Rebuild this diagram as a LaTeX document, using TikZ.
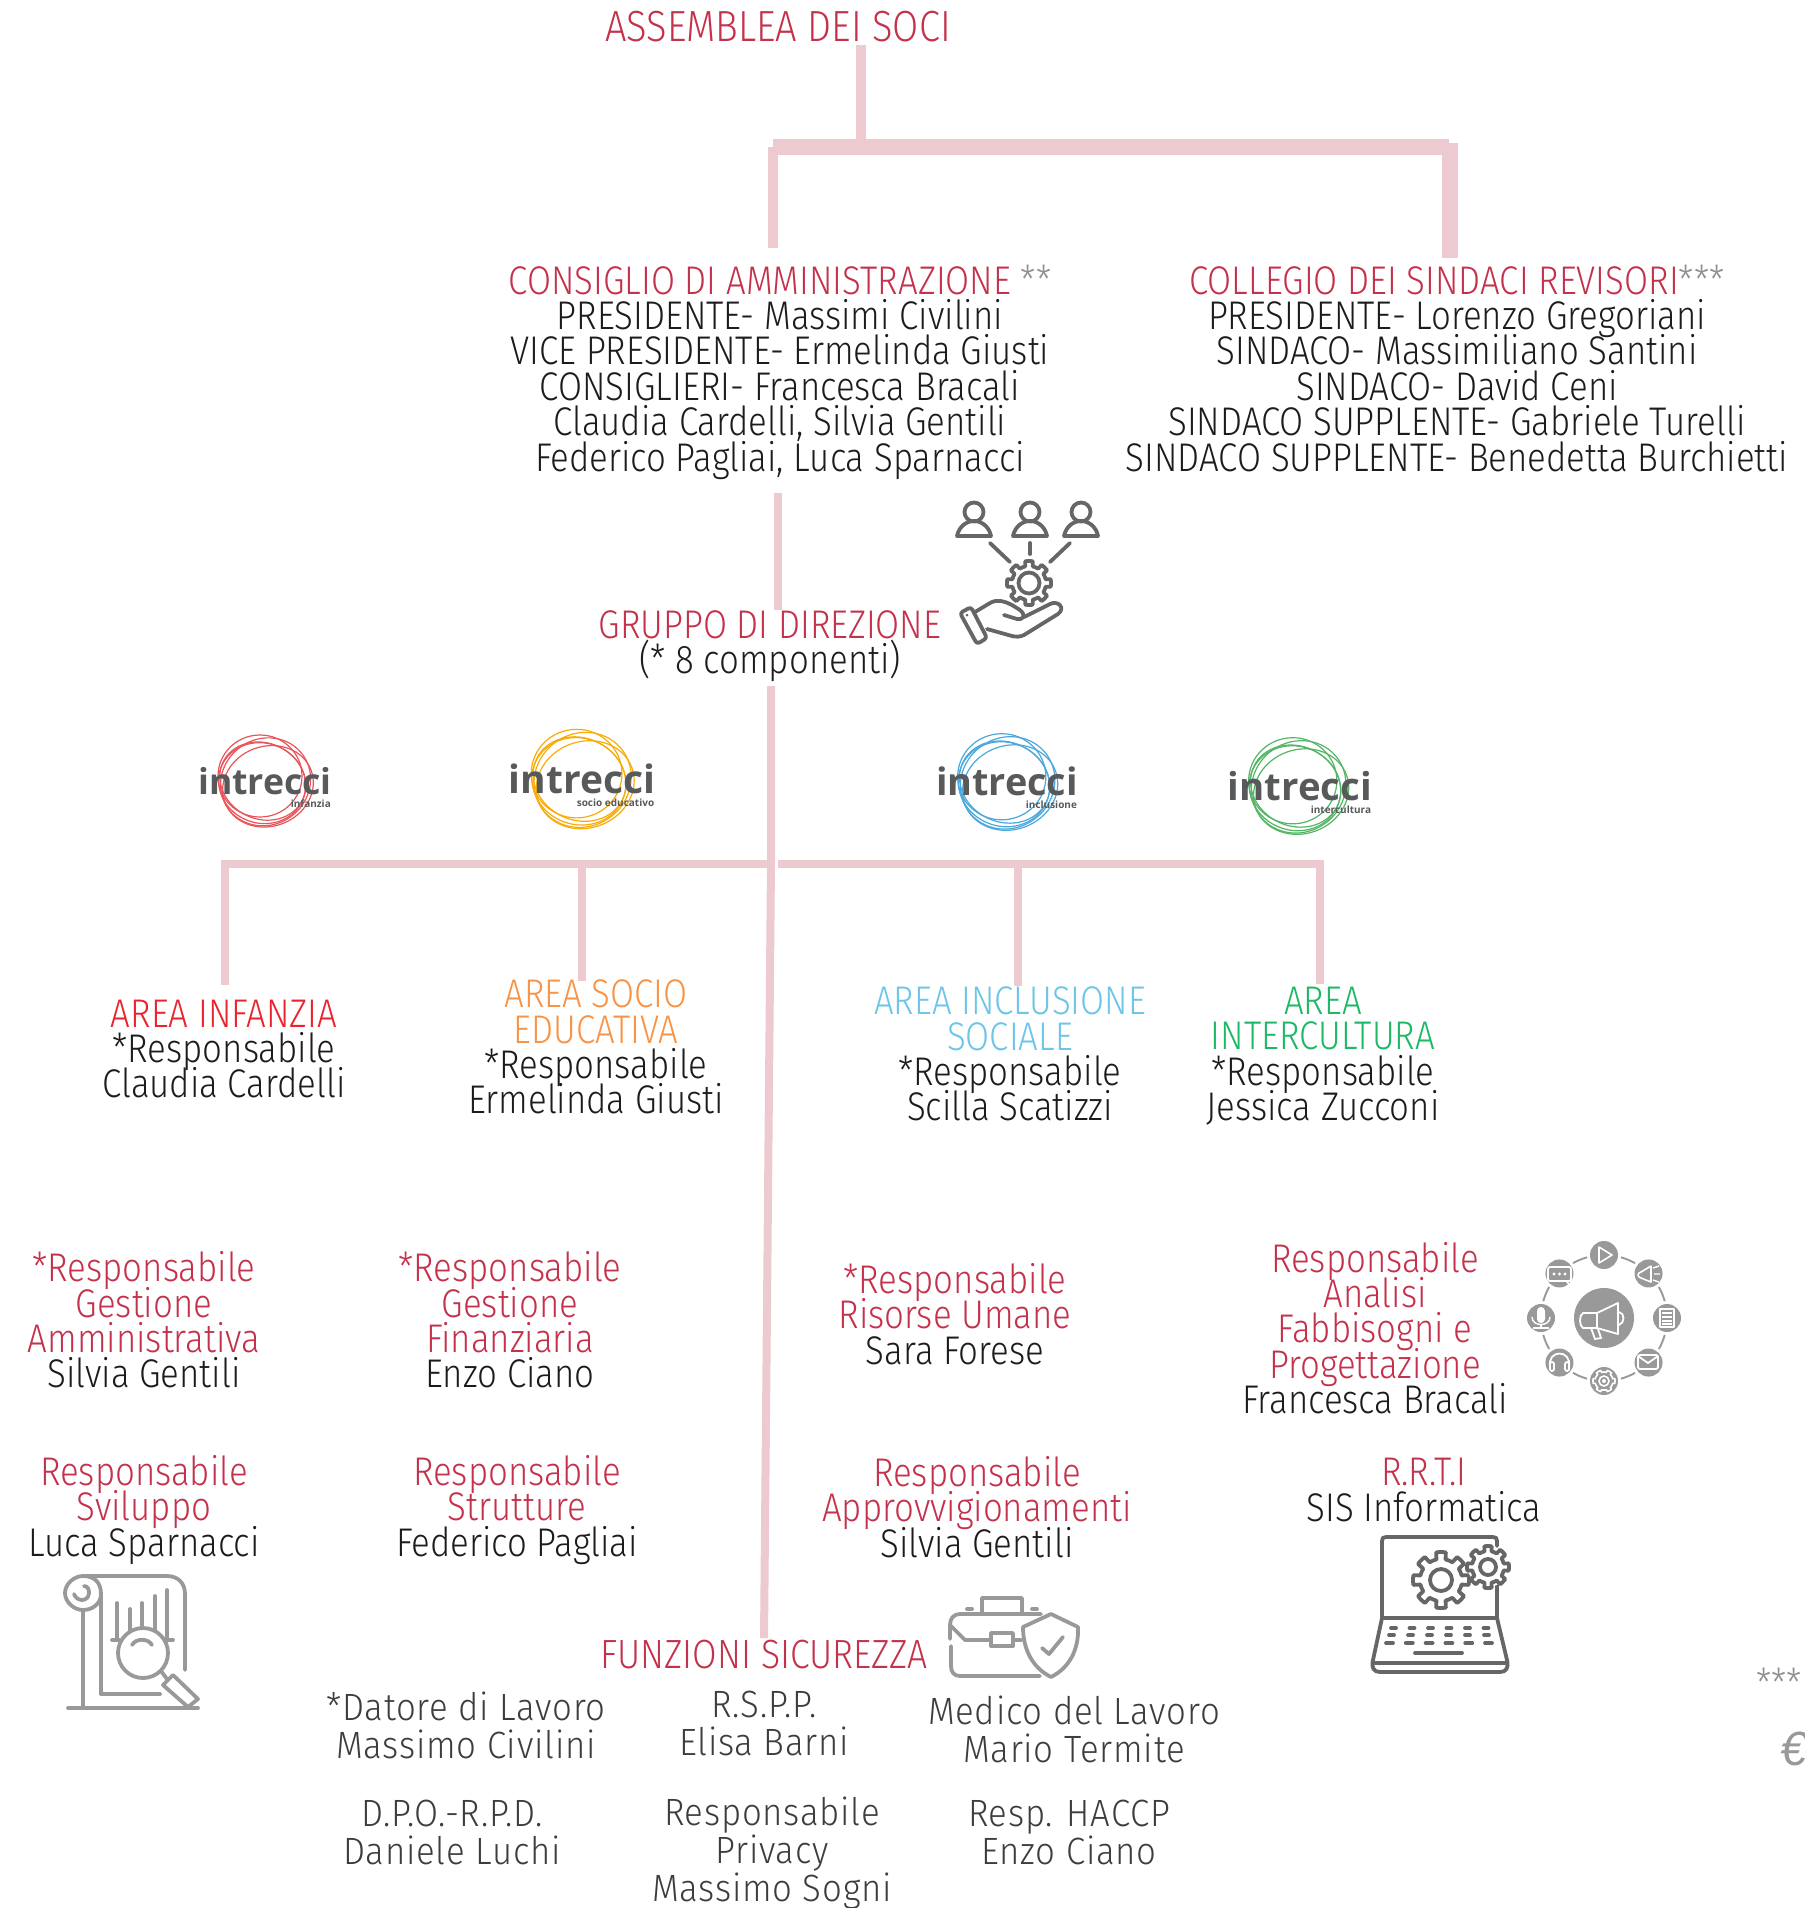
\documentclass[tikz,border=0pt]{standalone}
\usepackage{fontspec}
\setmainfont{Fira Sans Light}[FakeStretch=0.87]
\newfontfamily\sicfont{Fira Sans Light}[FakeStretch=0.915,LetterSpace=2]
\newfontfamily\logofont{Open Sans}
\newfontfamily\eurofont{Liberation Sans}
\definecolor{rosa}{HTML}{EDC9D0}
\definecolor{rosso}{HTML}{C4314B}
\definecolor{nero}{HTML}{1C1C1C}
\definecolor{grafite}{HTML}{3D3D3D}
\definecolor{stella}{HTML}{8F8F8F}
\definecolor{scuro}{HTML}{666666}
\definecolor{chiaro}{HTML}{999999}
\definecolor{logogrigio}{HTML}{58595B}
\definecolor{logorosso}{HTML}{E8545A}
\definecolor{logoarancio}{HTML}{F7AC0A}
\definecolor{logoblu}{HTML}{4BA8DC}
\definecolor{logoverde}{HTML}{55B567}
\lineskiplimit=-100pt
\tikzset{
    linea/.style={draw=rosa, line width=4pt},
    lineamedia/.style={draw=rosa, line width=5pt},
    lineaspessa/.style={draw=rosa, line width=8pt},
    testo/.style={align=center, inner sep=0pt, text=nero, font=\fontsize{20}{17.7}\selectfont},
    sicurezza/.style={align=center, inner sep=0pt, text=grafite, font=\sicfont\fontsize{19}{19}\selectfont},
    icona/.style={line width=1.9pt, line cap=round, line join=round},
    anello/.style={line width=0.6pt}
}
\newcommand{\rosso}[1]{\textcolor{rosso}{#1}}
\newcommand{\stelle}[1]{\textcolor{stella}{#1}}
\newcommand{\ruota}[6]{
    \draw[#6, shift={(#1,#2)}] plot[samples=145, domain=0:360] (\x:{#4+(#3-#4)*(cos(#5*\x)>0)}) -- cycle;
}
\newcommand{\logointrecci}[9]{
    \begin{scope}[shift={(#2,#3)}, scale=#4]
        \draw[#5, anello] (-5,-5) ellipse (42 and 41);
        \draw[#5, anello, rotate=20] (1,6) ellipse (46 and 40);
        \draw[#5, anello, rotate=-25] (-2,1) ellipse (44 and 38);
        \draw[#5, anello, rotate=35] (0,1) ellipse (46 and 43);
        \draw[#5, anello, rotate=70] (-3,-2) ellipse (40 and 44);
    \end{scope}
    \node[inner sep=0pt, anchor=base, text=logogrigio, font=\logofont\bfseries\fontsize{#9}{#9}\selectfont] (#1) at (#6,#7) {intrecci};
    \node[inner sep=0pt, anchor=base east, text=logogrigio, font=\logofont\bfseries\fontsize{5}{6}\selectfont, yshift=-6.5pt, xshift=-0.5pt] (#1sub) at (#1.base east) {#8};
}
\begin{document}
\begin{tikzpicture}[x=0.5pt, y=-0.5pt]
    \useasboundingbox (0,0) rectangle (1805,1908);

    \node[testo, font=\fontsize{21.8}{17.7}\selectfont] (assemblea) at (778,27) {\rosso{ASSEMBLEA DEI SOCI}};
    \node[testo] (cda) at (780,372) {\rosso{CONSIGLIO DI AMMINISTRAZIONE} \stelle{**}\\
        PRESIDENTE- Massimi Civilini\\
        VICE PRESIDENTE- Ermelinda Giusti\\
        CONSIGLIERI- Francesca Bracali\\
        Claudia Cardelli, Silvia Gentili\\
        Federico Pagliai, Luca Sparnacci};
    \node[testo] (collegio) at (1457,368) {\rosso{COLLEGIO DEI SINDACI REVISORI}\stelle{***}\\
        PRESIDENTE- Lorenzo Gregoriani\\
        SINDACO- Massimiliano Santini\\
        SINDACO- David Ceni\\
        SINDACO SUPPLENTE- Gabriele Turelli\\
        SINDACO SUPPLENTE- Benedetta Burchietti};
    \node[testo] (gruppo) at (770,646) {\rosso{GRUPPO DI DIREZIONE}\\(* 8 componenti)};

    \node[testo] (infanzia) at (224,1049) {\textcolor[HTML]{E8242F}{AREA INFANZIA}\\*Responsabile\\Claudia Cardelli};
    \node[testo] (socio) at (596,1047) {\textcolor[HTML]{F79447}{AREA SOCIO}\\\textcolor[HTML]{F79447}{EDUCATIVA}\\*Responsabile\\Ermelinda Giusti};
    \node[testo] (inclusione) at (1010,1054) {\textcolor[HTML]{6DC5E8}{AREA INCLUSIONE}\\\textcolor[HTML]{6DC5E8}{SOCIALE}\\*Responsabile\\Scilla Scatizzi};
    \node[testo] (intercultura) at (1323,1056) {\textcolor[HTML]{1DB866}{AREA}\\\textcolor[HTML]{1DB866}{INTERCULTURA}\\*Responsabile\\Jessica Zucconi};

    \node[testo] (amministrativa) at (144,1320) {\rosso{*Responsabile}\\\rosso{Gestione}\\\rosso{Amministrativa}\\Silvia Gentili};
    \node[testo] (finanziaria) at (510,1320) {\rosso{*Responsabile}\\\rosso{Gestione}\\\rosso{Finanziaria}\\Enzo Ciano};
    \node[testo] (risorse) at (955,1314) {\rosso{*Responsabile}\\\rosso{Risorse Umane}\\Sara Forese};
    \node[testo] (analisi) at (1375,1328) {\rosso{Responsabile}\\\rosso{Analisi}\\\rosso{Fabbisogni e}\\\rosso{Progettazione}\\Francesca Bracali};
    \node[testo] (sviluppo) at (144,1510) {\rosso{Responsabile}\\\rosso{Sviluppo}\\Luca Sparnacci};
    \node[testo] (strutture) at (517,1510) {\rosso{Responsabile}\\\rosso{Strutture}\\Federico Pagliai};
    \node[testo] (approvvigionamenti) at (977,1507) {\rosso{Responsabile}\\\rosso{Approvvigionamenti}\\Silvia Gentili};
    \node[testo] (rrti) at (1424,1490) {\rosso{R.R.T.I}\\SIS Informatica};
    \node[testo, font=\fontsize{20.4}{17.7}\selectfont] (funzioni) at (764,1655) {\rosso{FUNZIONI SICUREZZA}};

    \node[sicurezza] (datore) at (466,1725) {*Datore di Lavoro\\Massimo Civilini};
    \node[sicurezza] (rspp) at (764,1723) {R.S.P.P.\\Elisa Barni};
    \node[sicurezza] (medico) at (1074,1729) {Medico del Lavoro\\Mario Termite};
    \node[sicurezza] (dpo) at (452,1832) {D.P.O.-R.P.D.\\Daniele Luchi};
    \node[sicurezza] (privacy) at (772,1853) {Responsabile\\Privacy\\Massimo Sogni};
    \node[sicurezza] (haccp) at (1069,1832) {Resp. HACCP\\Enzo Ciano};

    \node[inner sep=0pt, anchor=west, text=stella, font=\fontsize{20}{20}\selectfont] (notastelle) at (1756,1683) {***};
    \node[inner sep=0pt, anchor=west, text=chiaro, font=\eurofont\itshape\fontsize{24}{24}\selectfont] (notaeuro) at (1780,1749) {€};

    \coordinate (busTop) at (860.5,147);
    \coordinate (busLeft) at (773,147);
    \coordinate (busRight) at (1450,147);
    \coordinate (trunkMid) at (771,864);
    \coordinate (ramoInfanzia) at (225,864);
    \coordinate (ramoSocio) at (582,864);
    \coordinate (nodoSx) at (767,864);
    \coordinate (nodoDx) at (778,864);
    \coordinate (ramoInclusione) at (1018,864);
    \coordinate (ramoIntercultura) at (1320,864);

    \draw[lineamedia, shorten <=1pt] (assemblea.south -| busTop) -- (busTop);
    \draw[lineaspessa] (busLeft) -- ([xshift=-0.5pt]busRight);
    \draw[lineamedia, shorten >=8pt] (busLeft) -- (busLeft |- cda.north);
    \draw[lineaspessa, shorten >=3pt] ([yshift=2pt]busRight) -- (busRight |- collegio.north);
    \draw[linea, shorten <=6.5pt] (cda.south -| nodoDx) -- (gruppo.north -| nodoDx);
    \draw[linea, shorten <=2pt, shorten >=1pt] (gruppo.south -| trunkMid) -- (trunkMid) -- (funzioni.north);
    \draw[linea] ([xshift=-2pt]ramoInfanzia) -- (nodoSx);
    \draw[linea] (nodoDx) -- ([xshift=2pt]ramoIntercultura);
    \draw[linea, shorten >=7.3pt] ([yshift=2pt]ramoInfanzia) -- (ramoInfanzia |- infanzia.north);
    \draw[linea, shorten >=-1pt] ([yshift=2pt]ramoSocio) -- (ramoSocio |- socio.north);
    \draw[linea] ([yshift=2pt]ramoInclusione) -- (ramoInclusione |- inclusione.north);
    \draw[linea, shorten >=1pt] ([yshift=2pt]ramoIntercultura) -- (ramoIntercultura |- intercultura.north);

    \logointrecci{logoinfanzia}{265}{781}{1}{logorosso}{265}{794}{infanzia}{17.8}
    \logointrecci{logosocio}{582}{779}{1.08}{logoarancio}{582}{793}{socio educativo}{19.5}
    \logointrecci{logoinclusione}{1007}{782}{1.05}{logoblu}{1007}{795}{inclusione}{18.9}
    \logointrecci{logointercultura}{1298}{786}{1.05}{logoverde}{1300}{800}{intercultura}{19.2}

    \foreach \cx in {974,1030,1081} {
        \draw[scuro, icona] (\cx,512) circle (9.5);
        \draw[scuro, icona] (\cx-17,536) .. controls (\cx-15,526) and (\cx-7,521) .. (\cx,521) .. controls (\cx+7,521) and (\cx+15,526) .. (\cx+17,536) -- cycle;
    }
    \draw[scuro, icona] (990,543) -- (1010,562);
    \draw[scuro, icona] (1030,543) -- (1030,554);
    \draw[scuro, icona] (1070,543) -- (1050,562);
    \ruota{1029}{583}{22}{17}{8}{scuro, icona}
    \draw[scuro, icona] (1029,583) circle (10.5);
    \draw[scuro, icona, rounded corners=1.5pt] (960,613) -- (971,607) -- (987,638) -- (977,644) -- cycle;
    \draw[scuro, icona] (975,612) -- (990,603) .. controls (997,599) and (1004,601) .. (1012,605) -- (1020,610) .. controls (1026,615) and (1024,620) .. (1017,619) -- (1004,615);
    \draw[scuro, icona] (1024,617) -- (1050,604) .. controls (1058,600) and (1066,608) .. (1058,614) -- (1024,635) .. controls (1020,637) and (1016,637) .. (1012,636) -- (987,629);
    \fill[scuro] (967,615) circle (1.5);

    \begin{scope}[shift={(1604,1318)}]
        \fill[chiaro] (0,0) circle (30);
        \foreach \a in {0,45,...,315} {
            \fill[chiaro] (\a:63) circle (14);
            \draw[chiaro, line width=0.95pt] plot[samples=8, domain=\a+15.5:\a+29.5] (\x:63);
        }
        \draw[white, line width=0.9pt, line join=round, line cap=round] (-7,-5) -- (-21,-5) .. controls (-25,-3) and (-25,8) .. (-21,10) -- (-7,10) -- (14,16) -- (14,-15) -- cycle;
        \draw[white, line width=0.9pt, line cap=round] (-7,-5) -- (-7,10);
        \draw[white, line width=0.9pt, line cap=round] (-13,10) -- (-9,21) -- (-3,20) -- (-6,11);
        \draw[white, line width=0.9pt, line cap=round] (15,-6) .. controls (21,-5) and (21,5) .. (15,7);
        \draw[white, line width=0.8pt, line join=round] (-5,-71) -- (-5,-55) -- (8,-63) -- cycle;
        \draw[white, line width=0.8pt, line join=round] (37,-46) -- (47,-52) -- (47,-36) -- (37,-40) .. controls (33,-41) and (33,-45) .. (37,-46);
        \draw[white, line width=0.7pt] (49,-50) -- (55,-52) (50,-44) -- (56,-44) (49,-38) -- (55,-36);
        \draw[white, line width=0.8pt, line join=round] (56,-9) rectangle (70,9);
        \foreach \yy in {-5,-1,3,6} {\draw[white, line width=0.6pt] (58,\yy) -- (68,\yy);}
        \draw[white, line width=0.9pt, rounded corners=1pt] (34,37) rectangle (54,51);
        \draw[white, line width=0.9pt] (34,38) -- (44,45) -- (54,38);
        \ruota{0}{63}{11}{9}{6}{white, line width=0.8pt}
        \draw[white, line width=0.8pt] (0,63) circle (5);
        \fill[white] (0,63) circle (2);
        \draw[white, line width=0.9pt] (-54,49) .. controls (-57,31) and (-32,31) .. (-35,49);
        \draw[white, line width=0.9pt, rounded corners=1pt] (-54,44) rectangle (-50,53);
        \draw[white, line width=0.9pt, rounded corners=1pt] (-39,44) rectangle (-35,53);
        \fill[white, rounded corners=2pt] (-67,-11) rectangle (-59,5);
        \draw[white, line width=0.7pt] (-72,-1) .. controls (-72,9) and (-54,9) .. (-54,-1);
        \draw[white, line width=0.7pt] (-63,6) -- (-63,10) (-71,10) -- (-55,10);
        \draw[white, line width=0.9pt, rounded corners=1pt] (-56,-51) rectangle (-33,-37);
        \draw[white, line width=0.8pt] (-38,-37) -- (-33,-32) -- (-33,-37);
        \foreach \xx in {-50,-44.5,-39} {\fill[white] (\xx,-44) circle (1.6);}
    \end{scope}

    \begin{scope}[chiaro, icona]
        \draw (83,1576) -- (167,1576) .. controls (178,1576) and (185,1583) .. (185,1594) -- (185,1670);
        \draw (83,1576) .. controls (74,1576) and (65,1584) .. (65,1593) .. controls (65,1602) and (74,1610) .. (83,1610);
        \draw (83,1576) .. controls (94,1576) and (101,1582) .. (101,1594);
        \draw (101,1594) .. controls (101,1604) and (92,1610) .. (83,1610);
        \draw (84,1586) .. controls (91,1586) and (91,1600) .. (82,1600) .. controls (78,1600) and (75,1597) .. (74,1594);
        \draw (83,1610) -- (83,1707);
        \draw (68,1708) -- (198,1708);
        \draw (101,1594) -- (101,1694) -- (160,1694);
        \draw (117,1603) -- (117,1640);
        \draw (130,1609) -- (130,1630);
        \draw (142,1603) -- (142,1628);
        \draw (155,1596) -- (155,1630);
        \draw (167,1590) -- (167,1640);
        \draw (112,1640) -- (119,1640);
        \draw (167,1640) -- (173,1640);
        \draw (143,1653) circle (25);
        \draw (132,1645) .. controls (136,1638) and (148,1638) .. (152,1645);
        \draw (161,1671) -- (167,1679);
        \draw (163,1685) -- (173,1675) -- (198,1699) -- (188,1707) -- cycle;
    \end{scope}

    \begin{scope}[chiaro, icona]
        \draw (982,1613) -- (982,1598) -- (1022,1598) -- (1022,1613);
        \draw (967,1609) -- (972,1609);
        \draw (1032,1609) -- (1037,1609);
        \draw (1041,1614) -- (960,1614) .. controls (954,1614) and (950,1618) .. (950,1625) -- (950,1639);
        \draw (950,1625) -- (965,1640) -- (990,1640);
        \draw (991,1633) rectangle (1013,1646);
        \draw (1013,1640) -- (1021,1640);
        \draw (951,1646) -- (951,1666) .. controls (951,1672) and (954,1676) .. (960,1676) -- (1040,1676);
        \draw (1051,1614) -- (1023,1627) .. controls (1023,1650) and (1033,1668) .. (1051,1677) .. controls (1069,1668) and (1079,1650) .. (1078,1627) -- cycle;
        \draw (1042,1648) -- (1049,1654) -- (1063,1637);
    \end{scope}

    \begin{scope}[scuro, icona]
        \draw (1497,1546) -- (1497,1541) .. controls (1497,1538) and (1496,1537) .. (1493,1537) -- (1386,1537) .. controls (1383,1537) and (1382,1538) .. (1382,1541) -- (1382,1618) -- (1497,1618) -- (1497,1585);
        \draw (1382,1618) -- (1373,1660) .. controls (1371,1668) and (1374,1672) .. (1380,1672) -- (1500,1672) .. controls (1506,1672) and (1509,1668) .. (1507,1660) -- (1497,1618);
        \draw (1375,1663) -- (1505,1663);
        \foreach \kk in {0,...,5} {
            \draw (1391+\kk*18.5,1628) -- (1396+\kk*18.5,1628);
            \draw (1389+\kk*19,1635) -- (1394+\kk*19,1635);
            \draw (1386+\kk*19.8,1643) -- (1393+\kk*19.8,1643);
        }
        \draw (1415,1653) -- (1462,1653);
    \end{scope}
    \ruota{1441}{1580}{28}{21}{8}{scuro, icona}
    \draw[scuro, icona] (1441,1580) circle (11);
    \fill[white] (1488,1567) circle (20);
    \ruota{1488}{1567}{21}{16}{8}{scuro, icona}
    \draw[scuro, icona] (1488,1567) circle (8);
\end{tikzpicture}
\end{document}
